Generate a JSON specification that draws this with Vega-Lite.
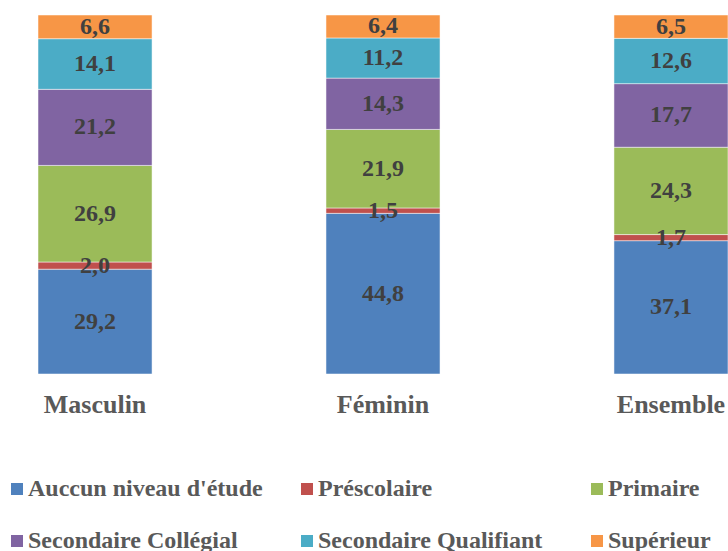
{
  "$schema": "https://vega.github.io/schema/vega-lite/v6.json",
  "width": 728,
  "height": 359,
  "autosize": {"type": "none"},
  "padding": {"left": 0, "top": 15, "right": 0, "bottom": 177},
  "background": "#ffffff",
  "config": {
    "view": {"stroke": null},
    "locale": {"number": {"decimal": ",", "thousands": " ", "grouping": [3], "currency": ["", " €"]}},
    "font": "'Liberation Serif', serif"
  },
  "data": {
    "values": [
      {"cat": "Masculin", "niveau": "Auccun niveau d'étude", "o": 1, "v": 29.2},
      {"cat": "Masculin", "niveau": "Préscolaire", "o": 2, "v": 2.0},
      {"cat": "Masculin", "niveau": "Primaire", "o": 3, "v": 26.9},
      {"cat": "Masculin", "niveau": "Secondaire Collégial", "o": 4, "v": 21.2},
      {"cat": "Masculin", "niveau": "Secondaire Qualifiant", "o": 5, "v": 14.1},
      {"cat": "Masculin", "niveau": "Supérieur", "o": 6, "v": 6.6},
      {"cat": "Féminin", "niveau": "Auccun niveau d'étude", "o": 1, "v": 44.8},
      {"cat": "Féminin", "niveau": "Préscolaire", "o": 2, "v": 1.5},
      {"cat": "Féminin", "niveau": "Primaire", "o": 3, "v": 21.9},
      {"cat": "Féminin", "niveau": "Secondaire Collégial", "o": 4, "v": 14.3},
      {"cat": "Féminin", "niveau": "Secondaire Qualifiant", "o": 5, "v": 11.2},
      {"cat": "Féminin", "niveau": "Supérieur", "o": 6, "v": 6.4},
      {"cat": "Ensemble", "niveau": "Auccun niveau d'étude", "o": 1, "v": 37.1},
      {"cat": "Ensemble", "niveau": "Préscolaire", "o": 2, "v": 1.7},
      {"cat": "Ensemble", "niveau": "Primaire", "o": 3, "v": 24.3},
      {"cat": "Ensemble", "niveau": "Secondaire Collégial", "o": 4, "v": 17.7},
      {"cat": "Ensemble", "niveau": "Secondaire Qualifiant", "o": 5, "v": 12.6},
      {"cat": "Ensemble", "niveau": "Supérieur", "o": 6, "v": 6.5}
    ]
  },
  "encoding": {
    "x": {
      "field": "cat",
      "type": "nominal",
      "sort": ["Masculin", "Féminin", "Ensemble"],
      "scale": {"paddingInner": 0.604, "paddingOuter": 0.066, "align": 1},
      "axis": {
        "title": null,
        "labelAngle": 0,
        "domain": false,
        "ticks": false,
        "grid": false,
        "labelFont": "'Liberation Serif', serif",
        "labelFontWeight": "bold",
        "labelFontSize": 26,
        "labelColor": "#595959",
        "labelPadding": 17,
        "labelLimit": 300
      }
    },
    "order": {"field": "o", "type": "quantitative"}
  },
  "layer": [
    {
      "mark": {"type": "bar", "stroke": "#ffffff", "strokeWidth": 0.5},
      "encoding": {
        "y": {"field": "v", "type": "quantitative", "stack": "normalize", "axis": null},
        "color": {
          "field": "niveau",
          "type": "nominal",
          "scale": {
            "domain": ["Auccun niveau d'étude", "Préscolaire", "Primaire", "Secondaire Collégial", "Secondaire Qualifiant", "Supérieur"],
            "range": ["#4F81BD", "#C0504D", "#9BBB59", "#8064A2", "#4BACC6", "#F79646"]
          },
          "legend": {
            "title": null,
            "orient": "none",
            "legendX": 5,
            "legendY": 462,
            "direction": "horizontal",
            "columns": 3,
            "gridAlign": "all",
            "columnPadding": 32,
            "rowPadding": 28,
            "padding": 0,
            "symbolType": "square",
            "symbolSize": 144,
            "symbolStrokeWidth": 0,
            "symbolOpacity": 1,
            "labelOffset": -1,
            "labelFont": "'Liberation Serif', serif",
            "labelFontWeight": "bold",
            "labelFontSize": 24,
            "labelColor": "#595959",
            "labelLimit": 400
          }
        }
      }
    },
    {
      "mark": {
        "type": "text",
        "font": "'Liberation Serif', serif",
        "fontWeight": "bold",
        "fontSize": 24,
        "color": "#404040",
        "baseline": "middle"
      },
      "encoding": {
        "y": {"field": "v", "type": "quantitative", "stack": "normalize", "bandPosition": 0.5, "axis": null},
        "text": {"field": "v", "type": "quantitative", "format": ".1f"}
      }
    }
  ]
}
